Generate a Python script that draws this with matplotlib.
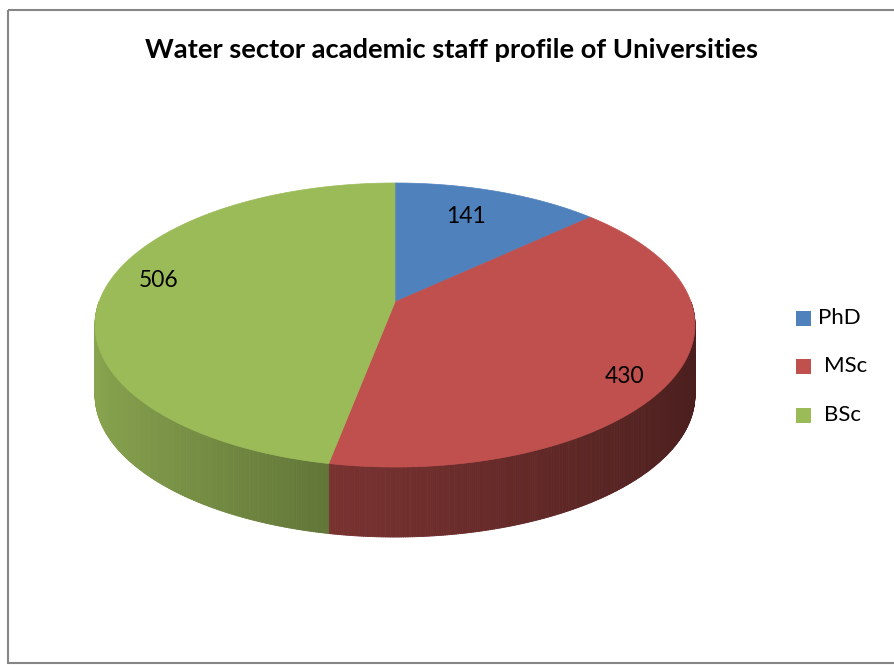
import numpy as np
import matplotlib
matplotlib.use('Agg')
import matplotlib.pyplot as plt
from matplotlib.patches import Polygon, Rectangle
from matplotlib.collections import PolyCollection
from matplotlib.colors import to_rgb

# data
categories = ['PhD', 'MSc', 'BSc']
values = [141, 430, 506]
colors = ['#4f81bd', '#c0504d', '#9bbb59']
title = 'Water sector academic staff profile of Universities'

FONT = ['Lato', 'DejaVu Sans']

# pie geometry (pixel coords, y down), simple perspective tilt
cx, cy = 395, 302
A, B = 296, 138.3
k = 0.162
depth = 70


def proj(t, r=1.0):
    u = r * np.cos(t)
    v = r * np.sin(t)
    w = 1 + k * v
    return cx + A * u / w, cy - B * v / w


fig = plt.figure(figsize=(8.95, 6.66), dpi=100)
ax = fig.add_axes([0, 0, 1, 1])
ax.set_xlim(0, 895)
ax.set_ylim(666, 0)
ax.axis('off')

# chart border
ax.add_patch(Rectangle((8, 10), 900, 653, fill=False, edgecolor='#868686', linewidth=1.5))

fracs = np.array(values) / sum(values)
# clockwise from 12 o'clock
edges = np.pi / 2 - 2 * np.pi * np.concatenate([[0], np.cumsum(fracs)])

# side walls (front half only), shaded along the rim
polys, cols = [], []
for i in range(len(values)):
    ts = np.linspace(edges[i + 1], edges[i], 400)
    for a, b in zip(ts[:-1], ts[1:]):
        m = (a + b) / 2
        if np.sin(m) >= 0:
            continue
        x0, y0 = proj(a)
        x1, y1 = proj(b)
        polys.append([(x0, y0), (x1, y1), (x1, y1 + depth), (x0, y0 + depth)])
        f = np.interp(np.cos(m), [-1, -0.186, 1], [0.89, 0.63, 0.385])
        cols.append(np.array(to_rgb(colors[i])) * f)
ax.add_collection(PolyCollection(polys, facecolors=cols, edgecolors=cols, linewidths=0.6))

# top faces
for i in range(len(values)):
    ts = np.linspace(edges[i + 1], edges[i], 200)
    xs, ys = proj(ts)
    pts = [(cx, cy)] + list(zip(xs, ys))
    ax.add_patch(Polygon(pts, closed=True, facecolor=colors[i], edgecolor=colors[i], linewidth=0.5))

# value labels (Excel nudges them a bit)
label_dx = [-10, 20, -15]
label_dy = [1, 20, -12]
for i in range(len(values)):
    mid = (edges[i] + edges[i + 1]) / 2
    lx, ly = proj(mid, 0.76)
    ax.text(lx + label_dx[i], ly + label_dy[i], str(values[i]), ha='center', va='center',
            fontsize=16.5, family=FONT, color='black')

# title
ax.text(452, 50, title, ha='center', va='center', fontsize=19.7,
        fontweight='bold', family=FONT, color='black')

# legend
leg_y = [318, 366, 415]
for i, name in enumerate(categories):
    ax.add_patch(Rectangle((796, leg_y[i] - 7.5), 15, 15, facecolor=colors[i], edgecolor='none'))
    ax.text(818 if i == 0 else 824, leg_y[i], name, ha='left', va='center',
            fontsize=16, family=FONT, color='black')

fig.savefig('out.png', dpi=100)
